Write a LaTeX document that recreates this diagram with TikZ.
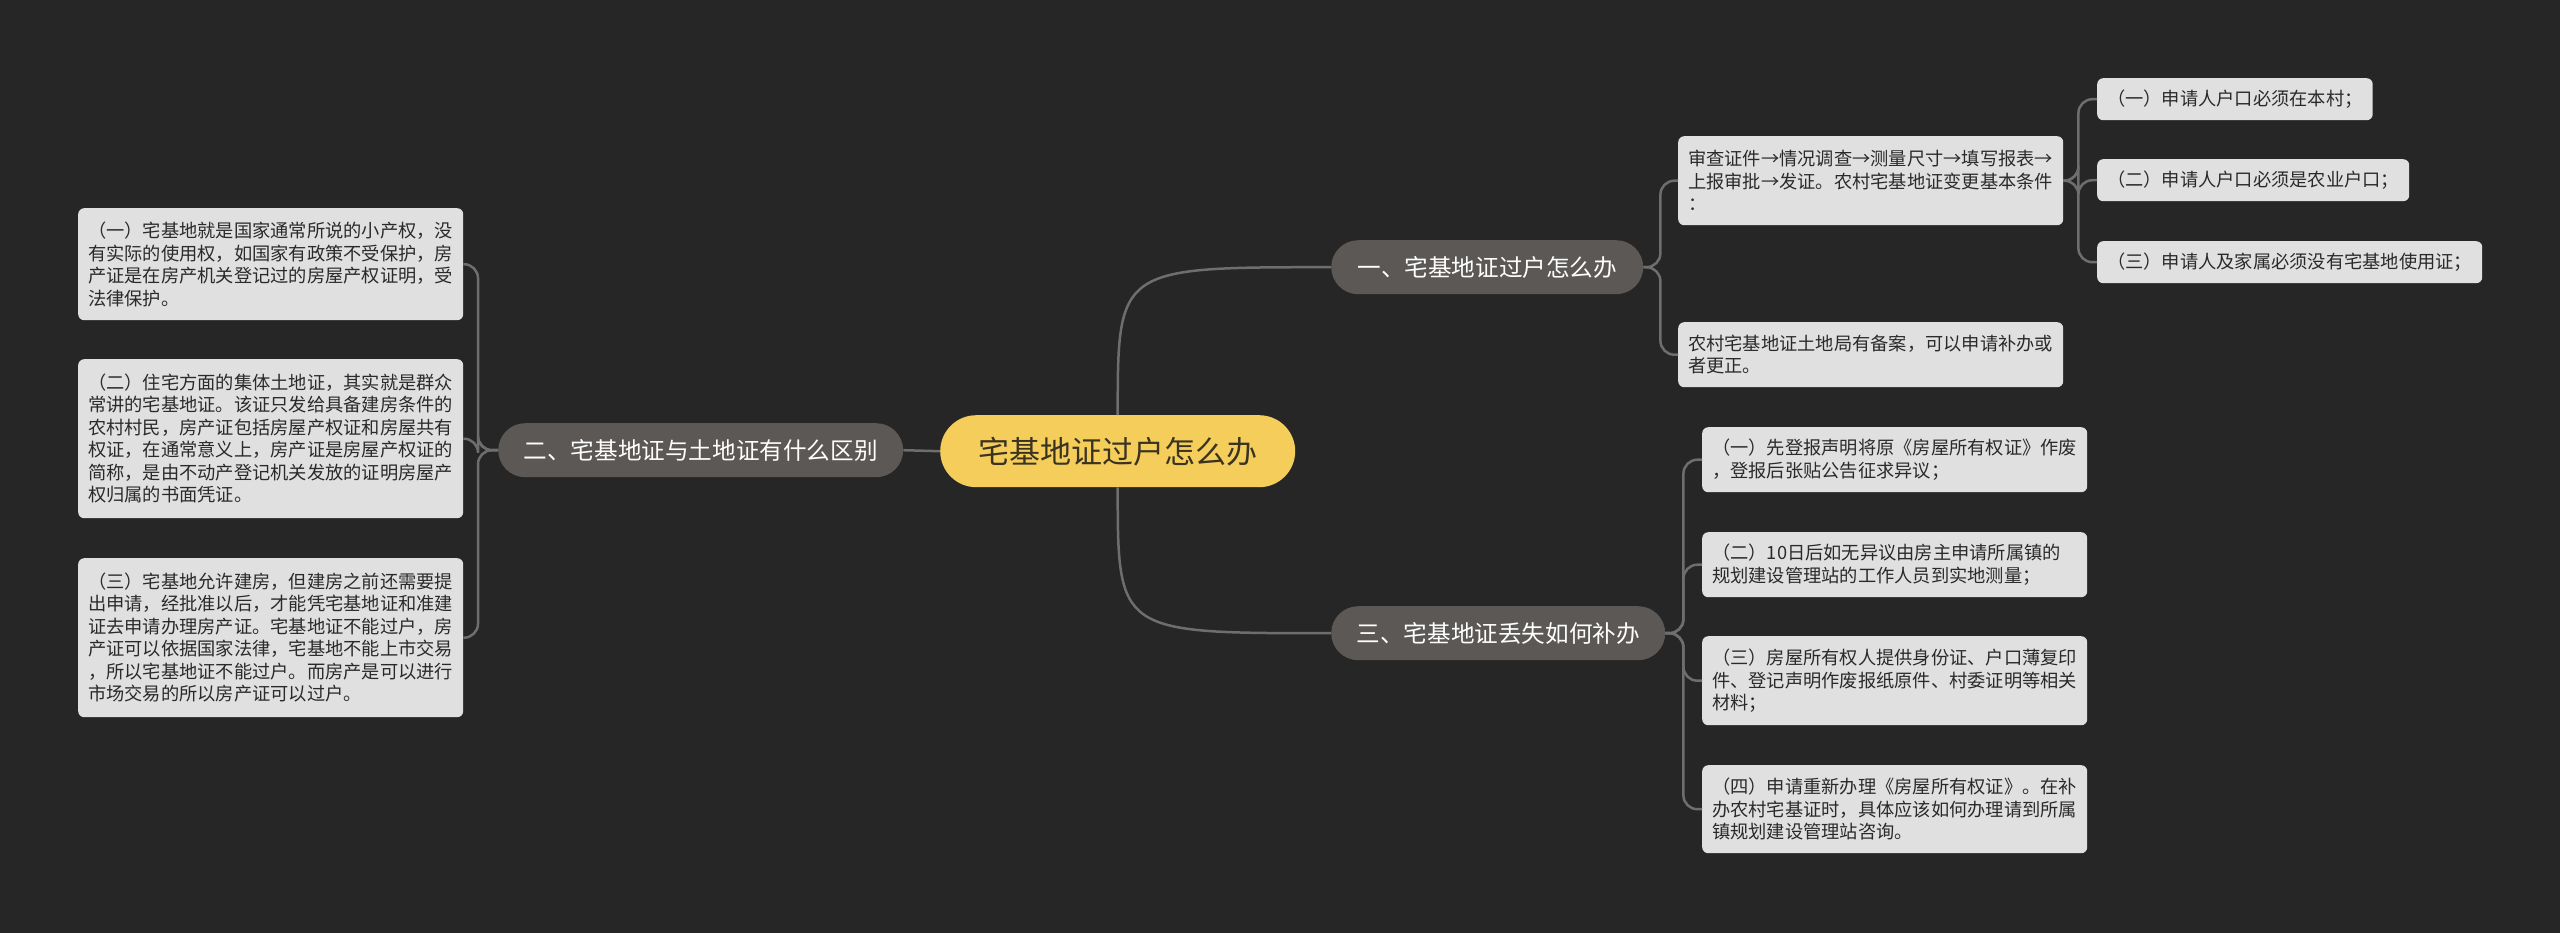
\documentclass[tikz,border=0pt]{standalone}
\usepackage{fontspec}
\setmainfont{Noto Sans CJK SC}[Kerning=Off]
\definecolor{bgc}{HTML}{262626}
\definecolor{leafc}{HTML}{E0E0E0}
\definecolor{leaftext}{HTML}{2A2A2A}
\definecolor{branchc}{HTML}{5B5855}
\definecolor{rootc}{HTML}{F5CD5B}
\definecolor{roottext}{HTML}{3A3320}
\definecolor{connc}{HTML}{6E6E6E}
\tikzset{
  conn/.style={draw=connc, line width=2.5, rounded corners=14},
  leaf/.style={fill=leafc, text=leaftext, rounded corners=6, inner xsep=10, inner ysep=0,
    anchor=north west, font=\fontsize{18.25}{22.5}\selectfont, align=left},
  leafw/.style={leaf, text width=365},
  branch/.style={fill=branchc, text=white, rounded corners=27, minimum height=54, inner sep=0,
    anchor=north west, font=\fontsize{23.6}{28}\selectfont},
  rootn/.style={fill=rootc, text=roottext, rounded corners=36, minimum height=72, minimum width=355,
    inner sep=0, anchor=north west, font=\fontsize{31}{36}\selectfont}
}
\begin{document}
\begin{tikzpicture}[x=1pt,y=-1pt]
\useasboundingbox (0,0) rectangle (2560,932);
\fill[bgc] (-10,-10) rectangle (2570,942);

% root and branches
\node[rootn] (root) at (940,415) {宅基地证过户怎么办};
\node[branch, minimum width=312] (b1) at (1331,240) {一、宅基地证过户怎么办};
\node[branch, minimum width=405] (b2) at (498,423) {二、宅基地证与土地证有什么区别};
\node[branch, minimum width=334] (b3) at (1331,606) {三、宅基地证丢失如何补办};

% left leaves
\node[leafw, minimum height=112] (l1) at (78,208) {（一）宅基地就是国家通常所说的小产权，没\\有实际的使用权，如国家有政策不受保护，房\\产证是在房产机关登记过的房屋产权证明，受\\法律保护。};
\node[leafw, minimum height=159] (l2) at (78,359) {（二）住宅方面的集体土地证，其实就是群众\\常讲的宅基地证。该证只发给具备建房条件的\\农村村民，房产证包括房屋产权证和房屋共有\\权证，在通常意义上，房产证是房屋产权证的\\简称，是由不动产登记机关发放的证明房屋产\\权归属的书面凭证。};
\node[leafw, minimum height=159] (l3) at (78,558) {（三）宅基地允许建房，但建房之前还需要提\\出申请，经批准以后，才能凭宅基地证和准建\\证去申请办理房产证。宅基地证不能过户，房\\产证可以依据国家法律，宅基地不能上市交易\\，所以宅基地证不能过户。而房产是可以进行\\市场交易的所以房产证可以过户。};

% branch 1 children
\node[leafw, minimum height=89] (c1) at (1678,136) {审查证件→情况调查→测量尺寸→填写报表→\\上报审批→发证。农村宅基地证变更基本条件\\：};
\node[leafw, minimum height=65] (c2) at (1678,322) {农村宅基地证土地局有备案，可以申请补办或\\者更正。};
\node[leaf, minimum height=42] (t1) at (2097,78) {（一）申请人户口必须在本村；};
\node[leaf, minimum height=42] (t2) at (2097,159) {（二）申请人户口必须是农业户口；};
\node[leaf, minimum height=42] (t3) at (2097,241) {（三）申请人及家属必须没有宅基地使用证；};

% branch 3 children
\node[leafw, minimum height=65] (r1) at (1702,427) {（一）先登报声明将原《房屋所有权证》作废\\，登报后张贴公告征求异议；};
\node[leafw, minimum height=65] (r2) at (1702,532) {（二）10日后如无异议由房主申请所属镇的\\规划建设管理站的工作人员到实地测量；};
\node[leafw, minimum height=89] (r3) at (1702,636) {（三）房屋所有权人提供身份证、户口薄复印\\件、登记声明作废报纸原件、村委证明等相关\\材料；};
\node[leafw, minimum height=88] (r4) at (1702,765) {（四）申请重新办理《房屋所有权证》。在补\\办农村宅基证时，具体应该如何办理请到所属\\镇规划建设管理站咨询。};

% connectors
\draw[conn] (root.north) .. controls (root.north |- b1.west) and (root.north |- b1.west) .. (b1.west);
\draw[conn] (root.south) .. controls (root.south |- b3.west) and (root.south |- b3.west) .. (b3.west);
\draw[conn] (root.west) -- (b2.east);

\foreach \n in {l1,l2,l3}{\draw[conn] (b2.west) -- ++(-20,0) |- (\n.east);}
\foreach \n in {c1,c2}{\draw[conn] (b1.east) -- ++(17,0) |- (\n.west);}
\foreach \n in {t1,t2,t3}{\draw[conn] (c1.east) -- ++(15,0) |- (\n.west);}
\foreach \n in {r1,r2,r3,r4}{\draw[conn] (b3.east) -- ++(18,0) |- (\n.west);}
\end{tikzpicture}
\end{document}
